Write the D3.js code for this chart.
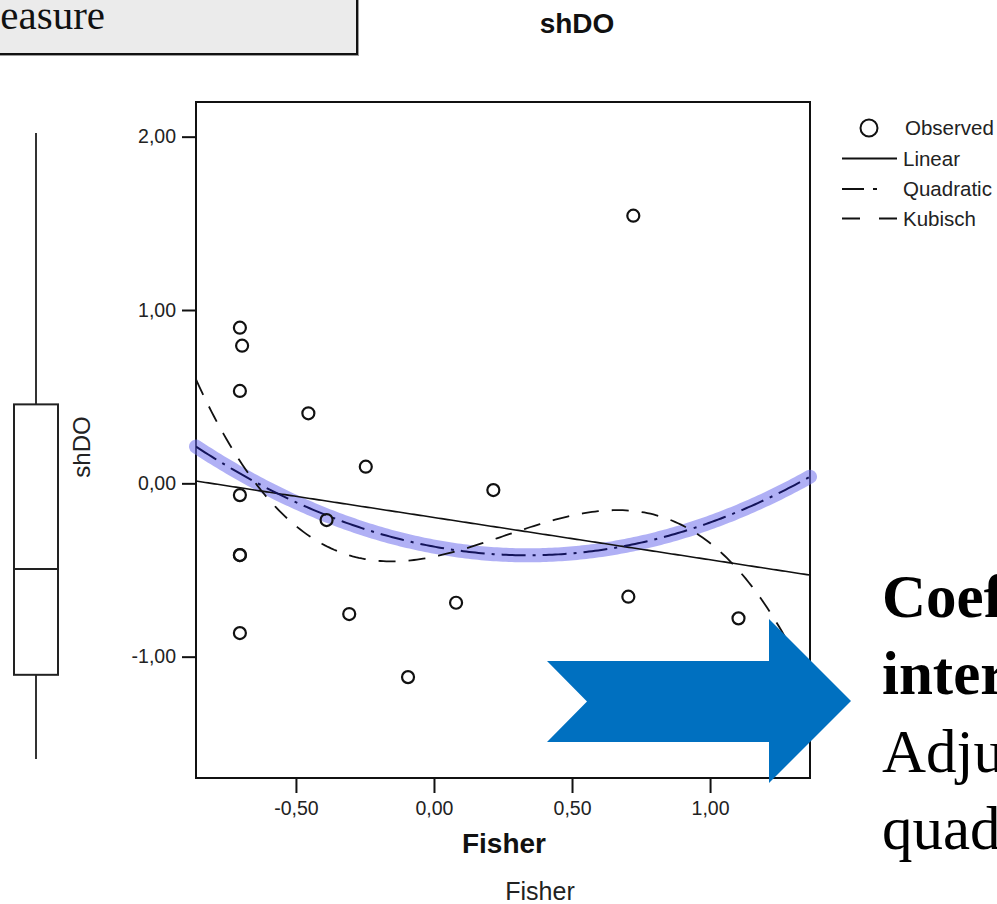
<!DOCTYPE html>
<html>
<head>
<meta charset="utf-8">
<script src="https://cdn.jsdelivr.net/npm/d3@7"></script>
<style>
  html, body { margin: 0; padding: 0; background: #fff; overflow: hidden; }
  svg { display: block; font-family: "Liberation Sans", Arial, sans-serif; }
</style>
</head>
<body>
<svg id="chart" width="997" height="904"></svg>
<script>
// ---------------- data ----------------
const fisher = [-0.703, -0.695, -0.703, -0.455, -0.247, -0.703, -0.389, -0.703, -0.703,
                -0.307, -0.703, -0.094, 0.080, 0.215, 0.722, 0.704, 1.103];
const shDO   = [0.898, 0.794, 0.533, 0.404, 0.096, -0.068, -0.212, -0.414, -0.414,
                -0.754, -0.864, -1.118, -0.689, -0.039, 1.544, -0.654, -0.779];
const xTicks = [-0.5, 0, 0.5, 1];
const yTicks = [-1, 0, 1, 2];
const xDomain = [-0.862, 1.362];
const yDomain = [-1.7, 2.2];
// fitted model coefficients (constant, x, x^2, x^3)
const linearCoef = [-0.197, -0.244];
const quadCoef   = [-0.365, -0.295, 0.434];
const cubicCoef  = [-0.423, 0.331, 0.828, -1.081];
// boxplot of shDO: min, Q1, median, Q3, max
const boxStats = [-1.118, -0.76, -0.31, 0.39, 1.544];
const legendLabels = ["Observed", "Linear", "Quadratic", "Kubisch"];
const rightText = [
  {t: "Coefficient", bold: true},
  {t: "interpretation", bold: true},
  {t: "Adjusted R²", bold: false},
  {t: "quadratic", bold: false}
];

// ---------------- layout ----------------
const svg = d3.select("#chart");
const plot = {left: 196, right: 810, top: 102, bottom: 778};
const x = d3.scaleLinear().domain(xDomain).range([plot.left, plot.right]);
const y = d3.scaleLinear().domain(yDomain).range([plot.bottom, plot.top]);
const fmt = v => d3.format(".2f")(v).replace(".", ",").replace("−", "-");

// top-left caption box
svg.append("rect").attr("x", -12).attr("y", -12).attr("width", 371).attr("height", 68)
  .attr("fill", "#9a9a9a");
svg.append("rect").attr("x", -12).attr("y", -12).attr("width", 369).attr("height", 66)
  .attr("fill", "#ebebeb").attr("stroke", "#111").attr("stroke-width", 2);
svg.append("text").attr("x", 105).attr("y", 29).attr("text-anchor", "end")
  .style("font-family", "'Liberation Serif', 'Times New Roman', serif")
  .style("font-size", "41px").attr("fill", "#111").text("Measure");

// title
svg.append("text").attr("x", 577).attr("y", 33).attr("text-anchor", "middle")
  .style("font-size", "28px").style("font-weight", "bold").attr("fill", "#111").text("shDO");

// ---------------- boxplot ----------------
const by = d3.scaleLinear().domain([boxStats[0], boxStats[4]]).range([759, 133]);
const bx = {l: 14, r: 58, c: 36};
const bp = svg.append("g");
bp.append("line").attr("x1", bx.c).attr("x2", bx.c).attr("y1", by(boxStats[4])).attr("y2", by(boxStats[3]))
  .attr("stroke", "#333").attr("stroke-width", 2);
bp.append("line").attr("x1", bx.c).attr("x2", bx.c).attr("y1", by(boxStats[1])).attr("y2", by(boxStats[0]))
  .attr("stroke", "#333").attr("stroke-width", 2);
bp.append("rect").attr("x", bx.l).attr("y", by(boxStats[3])).attr("width", bx.r - bx.l)
  .attr("height", by(boxStats[1]) - by(boxStats[3]))
  .attr("fill", "#fff").attr("stroke", "#222").attr("stroke-width", 2);
bp.append("line").attr("x1", bx.l).attr("x2", bx.r).attr("y1", by(boxStats[2])).attr("y2", by(boxStats[2]))
  .attr("stroke", "#222").attr("stroke-width", 2);
bp.append("text").attr("transform", "translate(90,447) rotate(-90)").attr("text-anchor", "middle")
  .style("font-size", "24px").attr("fill", "#222").text("shDO");

// ---------------- axes ----------------
const yAxis = svg.append("g").attr("transform", `translate(${plot.left},0)`)
  .call(d3.axisLeft(y).tickValues(yTicks).tickSize(14).tickPadding(6).tickFormat(fmt));
const xAxis = svg.append("g").attr("transform", `translate(0,${plot.bottom})`)
  .call(d3.axisBottom(x).tickValues(xTicks).tickSize(15).tickPadding(8).tickFormat(fmt));
[yAxis, xAxis].forEach(g => {
  g.select(".domain").remove();
  g.selectAll(".tick line").attr("stroke", "#111").attr("stroke-width", 2);
  g.selectAll(".tick text").style("font-size", "19.5px").style("font-family", "'Liberation Sans', Arial, sans-serif")
    .attr("fill", "#222");
});

// frame
svg.append("rect").attr("x", plot.left).attr("y", plot.top)
  .attr("width", plot.right - plot.left).attr("height", plot.bottom - plot.top)
  .attr("fill", "none").attr("stroke", "#111").attr("stroke-width", 2);

// axis titles
svg.append("text").attr("x", 504).attr("y", 853).attr("text-anchor", "middle")
  .style("font-size", "28px").style("font-weight", "bold").attr("fill", "#111").text("Fisher");
svg.append("text").attr("x", 540).attr("y", 900).attr("text-anchor", "middle")
  .style("font-size", "25px").attr("fill", "#222").text("Fisher");

// ---------------- fit curves ----------------
const poly = c => v => c.reduce((s, k, i) => s + k * Math.pow(v, i), 0);
const xs = d3.range(0, 201).map(i => xDomain[0] + (xDomain[1] - xDomain[0]) * i / 200);
const curve = f => d3.line().x(d => x(d)).y(d => y(f(d)))(xs);

svg.append("clipPath").attr("id", "clip").append("rect")
  .attr("x", plot.left).attr("y", plot.top).attr("width", plot.right - plot.left).attr("height", plot.bottom - plot.top);

// highlight behind quadratic
svg.append("path").attr("d", curve(poly(quadCoef))).attr("fill", "none")
  .attr("stroke", "rgb(112,112,236)").attr("stroke-opacity", 0.55).attr("stroke-width", 14)
  .attr("stroke-linecap", "round");

const curves = svg.append("g").attr("clip-path", "url(#clip)");
curves.append("path").attr("d", curve(poly(linearCoef))).attr("fill", "none")
  .attr("stroke", "#111").attr("stroke-width", 1.6);
curves.append("path").attr("d", curve(poly(quadCoef))).attr("fill", "none")
  .attr("stroke", "#14145a").attr("stroke-width", 2).attr("stroke-dasharray", "24,7,3,7");
curves.append("path").attr("d", curve(poly(cubicCoef))).attr("fill", "none")
  .attr("stroke", "#111").attr("stroke-width", 1.8).attr("stroke-dasharray", "17,13");

// ---------------- observed points ----------------
svg.append("g").selectAll("circle").data(fisher.map((f, i) => [f, shDO[i]])).join("circle")
  .attr("cx", d => x(d[0])).attr("cy", d => y(d[1])).attr("r", 6)
  .attr("fill", "none").attr("stroke", "#111").attr("stroke-width", 2.2);

// ---------------- legend ----------------
const lg = svg.append("g");
const lgRows = [128, 158.5, 189, 218.5];
lg.append("circle").attr("cx", 869).attr("cy", lgRows[0]).attr("r", 8.5)
  .attr("fill", "none").attr("stroke", "#111").attr("stroke-width", 2);
const lgDash = [null, null, "22,9,4,30", "18,19,18"];
[1, 2, 3].forEach(i => {
  lg.append("line").attr("x1", 842).attr("x2", 897).attr("y1", lgRows[i]).attr("y2", lgRows[i])
    .attr("stroke", "#111").attr("stroke-width", 2)
    .attr("stroke-dasharray", lgDash[i]);
});
legendLabels.forEach((t, i) => {
  lg.append("text").attr("x", i === 0 ? 905 : 903).attr("y", lgRows[i] + 7)
    .style("font-size", "20.5px").attr("fill", "#222").text(t);
});

// ---------------- annotation arrow ----------------
const arrowPts = [[547, 661], [769, 661], [769, 619], [851, 701], [769, 783], [769, 742], [547, 742], [587, 701.5]];
svg.append("path").attr("d", d3.line()(arrowPts) + "Z").attr("fill", "#0070c0");

// right side text
const rt = svg.append("g").style("font-family", "'Liberation Serif', 'Times New Roman', serif");
rightText.forEach((d, i) => {
  rt.append("text").attr("x", 882).attr("y", 617 + i * 77.3)
    .style("font-size", "61px").style("font-weight", d.bold ? "bold" : "normal")
    .attr("fill", "#000").text(d.t);
});
</script>
</body>
</html>
